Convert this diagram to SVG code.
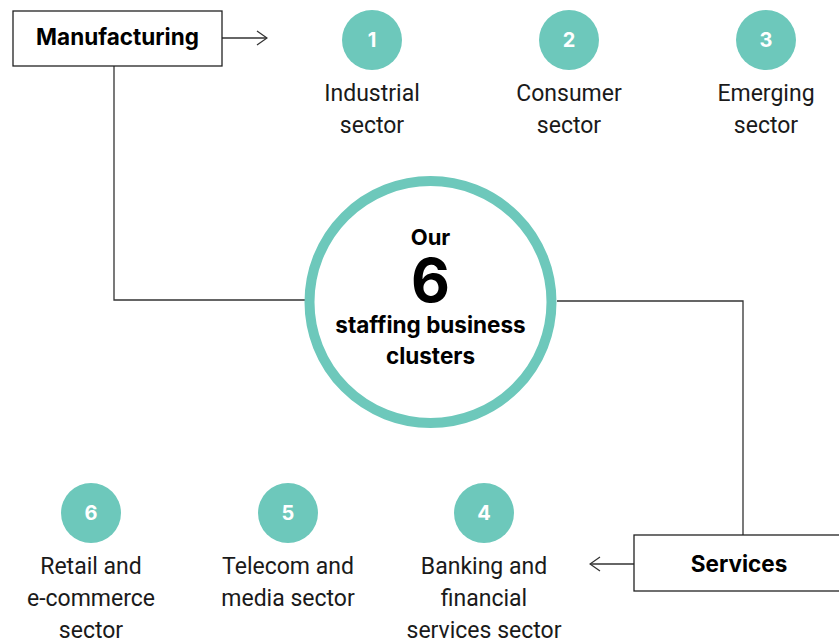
<svg xmlns="http://www.w3.org/2000/svg" width="839" height="641" viewBox="0 0 839 641">
<style>
.box{fill:#fff;stroke:#222;stroke-width:1.3}
.line{fill:none;stroke:#333;stroke-width:1.3}
.dot{fill:#6dc8bb}
.num{font-family:Inter,"Liberation Sans",sans-serif;font-weight:700;font-size:20px;fill:#fff;text-anchor:middle}
.lbl{font-family:Roboto,"Liberation Sans",sans-serif;font-size:23px;fill:#1a1a1a;text-anchor:middle}
.bold{font-family:Inter,"Liberation Sans",sans-serif;font-weight:700;fill:#000;text-anchor:middle}
</style>
<defs>
<marker id="arr" viewBox="0 0 12 16" refX="11" refY="8" markerWidth="12" markerHeight="16" markerUnits="userSpaceOnUse" orient="auto">
<path d="M1,1 L11,8 L1,15" fill="none" stroke="#333" stroke-width="1.3"/>
</marker>
</defs>
<g id="connectors">
<path class="line" d="M222,38 H267" marker-end="url(#arr)"/>
<path class="line" d="M114,66 V300 H305"/>
<path class="line" d="M557,301 H743 V535"/>
<path class="line" d="M634,564 H590" marker-end="url(#arr)"/>
</g>
<g id="manufacturing">
<rect class="box" x="13" y="11" width="209" height="55"/>
<text class="bold" x="117.5" y="45" font-size="22.5">Manufacturing</text>
</g>
<g id="services">
<rect class="box" x="634" y="535" width="210" height="56"/>
<text class="bold" x="739" y="572" font-size="22.5">Services</text>
</g>
<g id="center">
<circle cx="430.5" cy="302" r="121" fill="#fff" stroke="#6dc8bb" stroke-width="10"/>
<text class="bold" x="430.5" y="245" font-size="22">Our</text>
<text class="bold" x="430.5" y="302" font-size="60">6</text>
<text class="bold" x="430.5" y="333" font-size="22.5">staffing business</text>
<text class="bold" x="430.5" y="364" font-size="22.5">clusters</text>
</g>
<g id="s1">
<circle class="dot" cx="372" cy="40" r="30"/>
<text class="num" x="372" y="47">1</text>
<text class="lbl" x="372" y="101">Industrial</text>
<text class="lbl" x="372" y="133">sector</text>
</g>
<g id="s2">
<circle class="dot" cx="569" cy="40" r="30"/>
<text class="num" x="569" y="47">2</text>
<text class="lbl" x="569" y="101">Consumer</text>
<text class="lbl" x="569" y="133">sector</text>
</g>
<g id="s3">
<circle class="dot" cx="766" cy="40" r="30"/>
<text class="num" x="766" y="47">3</text>
<text class="lbl" x="766" y="101">Emerging</text>
<text class="lbl" x="766" y="133">sector</text>
</g>
<g id="s6">
<circle class="dot" cx="91" cy="513" r="30"/>
<text class="num" x="91" y="520">6</text>
<text class="lbl" x="91" y="574">Retail and</text>
<text class="lbl" x="91" y="606">e-commerce</text>
<text class="lbl" x="91" y="638">sector</text>
</g>
<g id="s5">
<circle class="dot" cx="288" cy="513" r="30"/>
<text class="num" x="288" y="520">5</text>
<text class="lbl" x="288" y="574">Telecom and</text>
<text class="lbl" x="288" y="606">media sector</text>
</g>
<g id="s4">
<circle class="dot" cx="484" cy="513" r="30"/>
<text class="num" x="484" y="520">4</text>
<text class="lbl" x="484" y="574">Banking and</text>
<text class="lbl" x="484" y="606">financial</text>
<text class="lbl" x="484" y="638">services sector</text>
</g>
</svg>
